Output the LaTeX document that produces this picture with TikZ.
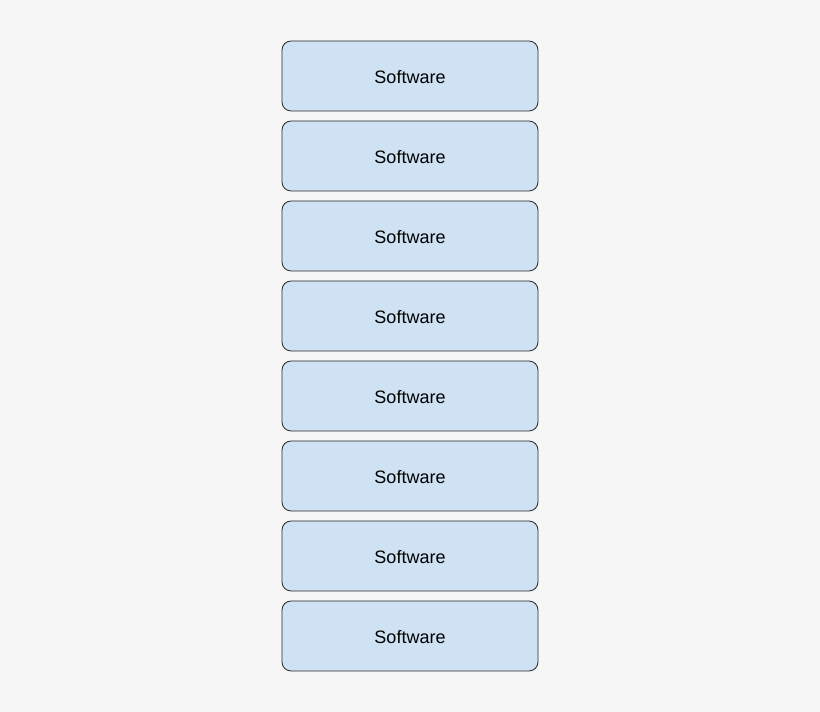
\documentclass[tikz,border=0pt]{standalone}
\usepackage{fontspec}
\setmainfont{Liberation Sans}
\definecolor{bg}{HTML}{F6F6F6}
\definecolor{boxfill}{HTML}{CFE2F3}
\begin{document}
\begin{tikzpicture}[x=1pt,y=1pt,
  swbox/.style={draw=black!85,line width=0.8pt,fill=boxfill,rounded corners=9pt,minimum width=256pt,minimum height=70pt,inner sep=0pt},
  swtext/.style={font=\fontsize{18}{21}\selectfont}]
\fill[bg] (0,0) rectangle (820,712);
\useasboundingbox (0,0) rectangle (820,712);
\foreach \i in {0,...,7}{
  \node[swbox] (s\i) at (410,{712-76-80*\i}) {};
  \node[swtext] (t\i) at ([yshift=-1pt]s\i.center) {Software};
}
\end{tikzpicture}
\end{document}
